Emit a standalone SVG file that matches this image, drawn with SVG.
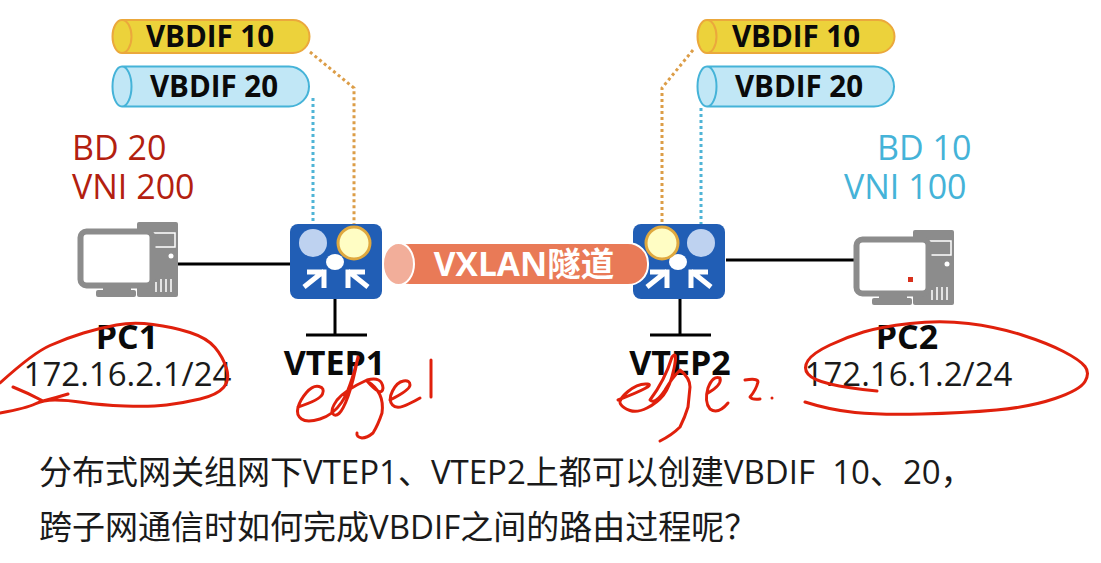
<svg xmlns="http://www.w3.org/2000/svg" width="1101" height="563" viewBox="0 0 1101 563">
<defs>
<style>
text{font-family:"Open Sans","Noto Sans CJK SC","Noto Sans",sans-serif}
.b{font-weight:700;fill:#0a0a0a;text-anchor:middle}
.vb{font-size:29.500px}
.lab{font-size:34px}
.ip{font-size:33px;fill:#1a1a1a;text-anchor:middle}
.cn{font-size:33px;fill:#1a1a1a}
.big{font-size:34px}
.ink{fill:none;stroke:#e0200c;stroke-width:3;stroke-linecap:round;stroke-linejoin:round}
.wire{stroke:#000;stroke-width:3;fill:none}
.arr{fill:none;stroke:#fff;stroke-width:5}
.y{fill:#ecd23b;stroke:#eba83c;stroke-width:2}
.c{fill:#c1e7f6;stroke:#45b3d8;stroke-width:2}
.p1{fill:#bed2f0}
.p2{fill:#fffdc4;stroke:#dfa83f;stroke-width:3}
</style>
<g id="pc"><rect x="58" y="0" width="41" height="75" rx="2" fill="#8c8c8c"/><rect x="64" y="11" width="32" height="14" fill="none" stroke="#fff" stroke-width="1.500"/><circle cx="92" cy="34" r="2.500" fill="#fff"/><path d="M82 57v13M87 57v13M92 57v13M77 60v10" stroke="#fff" stroke-width="1.500"/><rect x="1.500" y="9.500" width="72" height="54" rx="6" fill="#fff" stroke="#8c8c8c" stroke-width="6"/><rect x="24" y="63" width="28" height="5" fill="#8c8c8c"/><rect x="17" y="68" width="40" height="7" rx="2" fill="#8c8c8c"/></g>
<g id="sw"><rect width="92" height="75" rx="8" fill="#215eb5"/><ellipse cx="45" cy="38" rx="9" ry="8" fill="#fff"/><path class="arr" d="M14 63L34 47M17 48H34V64M78 63L58 47M75 48H58V64"/></g>
<path id="cyl10" d="M11 0H182A16.500 16.500 0 0 1 182 33H11A9.500 16.500 0 0 1 11 0A9.500 16.500 0 0 1 11 33"/>
<path id="cyl20" d="M11 0H178A20 20 0 0 1 178 40H11A9.500 20 0 0 1 11 0A9.500 20 0 0 1 11 40"/>
</defs>
<rect width="1101" height="563" fill="#fff"/>
<g id="connectors">
<path class="wire" d="M177 264H290M726 260H856M335 299V335M306 335H367M680 299V335M650 335H711"/>
<path d="M313 98V224M701 108V224" stroke="#4fb4d6" stroke-width="3" stroke-dasharray="3 3" fill="none"/>
<path d="M310 52L354 88V224M693 50L662 88V224" stroke="#dc9d47" stroke-width="3" stroke-dasharray="3 3" fill="none"/>
</g>
<g id="vbdif10-left"><use href="#cyl10" x="111" y="20" class="y"/><text class="b vb" x="210" y="47">VBDIF 10</text></g>
<g id="vbdif20-left"><use href="#cyl20" x="111" y="66.500" class="c"/><text class="b vb" x="214" y="97">VBDIF 20</text></g>
<g id="vbdif10-right"><use href="#cyl10" x="696" y="20" class="y"/><text class="b vb" x="796" y="47">VBDIF 10</text></g>
<g id="vbdif20-right"><use href="#cyl20" x="696" y="66.500" class="c"/><text class="b vb" x="799" y="97">VBDIF 20</text></g>
<g id="label-left" fill="#b3200f"><text class="big" x="72" y="160">BD 20</text><text class="big" x="72" y="199">VNI 200</text></g>
<g id="label-right" fill="#45b3d8"><text class="big" x="877" y="160">BD 10</text><text class="big" x="844" y="199">VNI 100</text></g>
<g id="pc1"><use href="#pc" x="79" y="222"/><text class="b lab" x="127" y="349">PC1</text><text class="ip" x="127.500" y="386">172.16.2.1/24</text></g>
<g id="pc2"><use href="#pc" x="855" y="230"/><rect x="908" y="277" width="5" height="5" fill="#d8301c"/><text class="b lab" x="907" y="349">PC2</text><text class="ip" x="908.500" y="386">172.16.1.2/24</text></g>
<g id="vtep1"><use href="#sw" x="290" y="224"/><circle class="p1" cx="313" cy="243" r="14"/><circle class="p2" cx="354" cy="243" r="16"/><text class="b lab" x="334.500" y="375">VTEP1</text></g>
<g id="vtep2"><use href="#sw" x="633" y="224"/><text class="b lab" x="680" y="375">VTEP2</text></g>
<g id="vxlan"><rect x="390" y="243" width="258" height="42" rx="20" fill="#e97a57" stroke="#fff" stroke-width="2"/><ellipse cx="398.500" cy="264" rx="15.500" ry="21" fill="#f2ae9a" stroke="#fff" stroke-width="2"/><text x="524" y="276" font-size="33.500" font-weight="700" fill="#fff" text-anchor="middle">VXLAN隧道</text></g>
<g id="vtep2-ports"><circle class="p2" cx="662" cy="243" r="16"/><circle class="p1" cx="701" cy="243" r="14"/></g>
<g id="question"><text class="cn" x="39" y="484" xml:space="preserve">分布式网关组网下VTEP1、VTEP2上都可以创建VBDIF  10、20，</text><text class="cn" x="39" y="539">跨子网通信时如何完成VBDIF之间的路由过程呢？</text></g>
<g id="annotations">
<path class="ink" d="M0 383Q33 353 50 345.500Q67 338 83.500 333Q100 328 116.500 325Q133 322 153 324.500Q173 327 190 332.500Q207 338 215 347.500Q223 357 226.500 368.500Q230 380 223.500 387.500Q217 395 200 399Q183 403 166.500 405Q150 407 125 406Q100 405 83.500 402.500Q67 400 55 400Q43 400 35 404Q27 408 0 413M13 387Q28 393 43 401Q55 398 68 394"/>
<path class="ink" d="M298 407Q320 400 322.500 394Q325 388 319 386.500Q313 385 306.500 392.500Q300 400 298 407.500Q296 415 301.500 419Q307 423 320 419Q333 415 341.500 402.500Q350 390 358 357Q353 383 348 396.500Q343 410 339 413.500Q335 417 332.500 413.500Q330 410 337 400Q345 390 367 380Q382 376 383 388Q382 398 367 381Q385 392 382 413Q378 425 373 433Q367 438 362 438Q356 437 357 433M390 400Q410 390 410 385Q410 380 403.500 381Q397 382 392.500 391Q388 400 392.500 405Q397 410 408.500 404Q415 401 420 398M431 360V397"/>
<path class="ink" d="M618 400Q657 385 647.500 384Q638 383 628 391.500Q618 400 620.500 404Q623 408 630 410.500Q637 413 647 408Q657 403 663.500 395Q670 387 674 368.500Q678 350 672 357Q665 380 650 400Q655 405 665 390Q672 378 680 370Q690 378 690 387Q689 397 688 407Q685 417 680 427Q672 435 660 441M708 393Q722 385 720 378Q713 375 708 388Q704 402 710 409Q718 415 728 403M745 380Q758 378 758 382Q756 390 750 397Q752 400 760 399"/>
<circle cx="772" cy="398" r="1.500" fill="#e0200c"/>
<path class="ink" d="M877 391Q847 388 830 384Q813 380 808 374Q803 368 808 360.500Q813 353 830 345Q847 337 863.500 332Q880 327 910 323.500Q940 320 968.500 323.500Q997 327 1022 335Q1047 343 1063.500 351.500Q1080 360 1085 366.500Q1090 373 1085 381.500Q1080 390 1055 398.500Q1030 407 996.500 410Q963 413 921.500 414Q880 415 855 412.500Q830 410 805 402"/>
</g>
</svg>
